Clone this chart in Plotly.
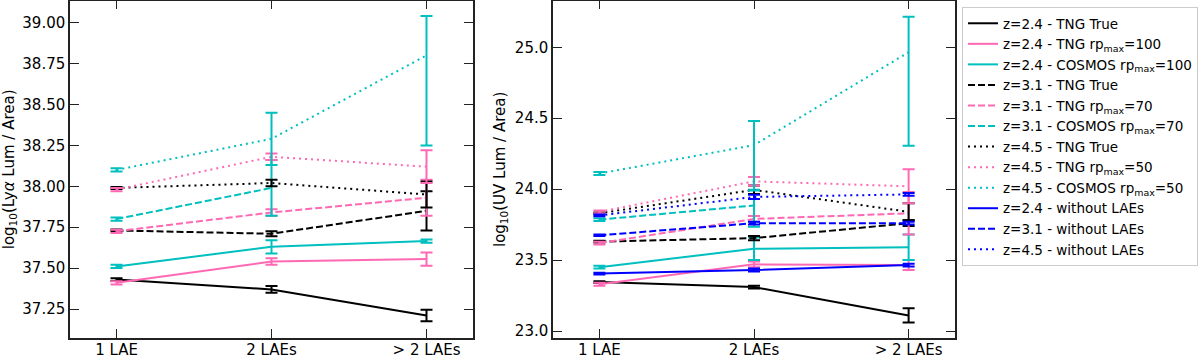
import plotly.graph_objects as go
from plotly.subplots import make_subplots

# 类别
CATEGORIES = ["1 LAE", "2 LAEs", "> 2 LAEs"]

# --- Lyα 面板 ---
lya_z24_tng_true = [37.43, 37.37, 37.21]
lya_z24_tng_true_err = [0.008, 0.02, 0.035]
lya_z24_tng_rp = [37.41, 37.54, 37.555]
lya_z24_tng_rp_err = [0.01, 0.02, 0.04]
lya_z24_cosmos = [37.51, 37.63, 37.665]
lya_z24_cosmos_err = [0.01, 0.04, 0.01]

lya_z31_tng_true = [37.73, 37.71, 37.85]
lya_z31_tng_true_err = [0.006, 0.015, 0.12]
lya_z31_tng_rp = [37.725, 37.84, 37.93]
lya_z31_tng_rp_err = [0.01, 0.02, 0.11]
lya_z31_cosmos = [37.80, 37.99, None]
lya_z31_cosmos_err = [0.01, 0.17, None]

lya_z45_tng_true = [37.99, 38.02, 37.95]
lya_z45_tng_true_err = [0.006, 0.02, 0.08]
lya_z45_tng_rp = [37.98, 38.18, 38.12]
lya_z45_tng_rp_err = [0.01, 0.02, 0.10]
lya_z45_cosmos = [38.10, 38.29, 38.80]
lya_z45_cosmos_err_plus = [0.01, 0.16, 0.24]
lya_z45_cosmos_err_minus = [0.01, 0.16, 0.55]

# --- UV 面板 ---
uv_z24_tng_true = [23.345, 23.31, 23.11]
uv_z24_tng_true_err = [0.006, 0.01, 0.05]
uv_z24_tng_rp = [23.33, 23.47, 23.465]
uv_z24_tng_rp_err = [0.01, 0.02, 0.035]
uv_z24_cosmos = [23.45, 23.58, 23.59]
uv_z24_cosmos_err = [0.01, 0.08, 0.09]

uv_z31_tng_true = [23.63, 23.655, 23.76]
uv_z31_tng_true_err = [0.006, 0.015, 0.02]
uv_z31_tng_rp = [23.62, 23.79, 23.83]
uv_z31_tng_rp_err = [0.01, 0.02, 0.15]
uv_z31_cosmos = [23.785, 23.885, None]
uv_z31_cosmos_err_plus = [0.01, 0.11, None]
uv_z31_cosmos_err_minus = [0.01, 0.15, None]

uv_z45_tng_true = [23.83, 23.995, 23.84]
uv_z45_tng_true_err = [0.006, 0.03, 0.06]
uv_z45_tng_rp = [23.84, 24.055, 24.02]
uv_z45_tng_rp_err = [0.01, 0.03, 0.12]
uv_z45_cosmos = [24.11, 24.31, 24.965]
uv_z45_cosmos_err_plus = [0.01, 0.17, 0.25]
uv_z45_cosmos_err_minus = [0.01, 0.32, 0.66]

uv_z24_no_lae = [23.405, 23.43, 23.465]
uv_z24_no_lae_err = [0.006, 0.01, 0.01]
uv_z31_no_lae = [23.675, 23.76, 23.76]
uv_z31_no_lae_err = [0.006, 0.01, 0.01]
uv_z45_no_lae = [23.815, 23.945, 23.963]
uv_z45_no_lae_err = [0.006, 0.015, 0.01]

BLACK = '#000000'
PINK = '#ff69b4'
CYAN = '#00bfbf'
BLUE = '#0000ff'

DASH = {'solid': 'solid', 'dashed': '7px,3px', 'dotted': '2px,4px'}


def add_series(fig, col, y, err_plus, err_minus, name, color, style, legend):
    fig.add_trace(
        go.Scatter(
            x=CATEGORIES,
            y=y,
            mode='lines',
            name=name,
            line=dict(color=color, width=2, dash=DASH[style]),
            error_y=dict(
                type='data',
                symmetric=False,
                array=err_plus,
                arrayminus=err_minus,
                color=color,
                thickness=2,
                width=6,
            ),
            showlegend=legend,
            connectgaps=False,
        ),
        row=1, col=col,
    )


fig = make_subplots(rows=1, cols=2)

# 左图：Lyα
lya_series = [
    (lya_z24_tng_true, lya_z24_tng_true_err, None, 'z=2.4 - TNG True', BLACK, 'solid'),
    (lya_z24_tng_rp, lya_z24_tng_rp_err, None, 'z=2.4 - TNG rp<sub>max</sub>=100', PINK, 'solid'),
    (lya_z24_cosmos, lya_z24_cosmos_err, None, 'z=2.4 - COSMOS rp<sub>max</sub>=100', CYAN, 'solid'),
    (lya_z31_tng_true, lya_z31_tng_true_err, None, 'z=3.1 - TNG True', BLACK, 'dashed'),
    (lya_z31_tng_rp, lya_z31_tng_rp_err, None, 'z=3.1 - TNG rp<sub>max</sub>=70', PINK, 'dashed'),
    (lya_z31_cosmos, lya_z31_cosmos_err, None, 'z=3.1 - COSMOS rp<sub>max</sub>=70', CYAN, 'dashed'),
    (lya_z45_tng_true, lya_z45_tng_true_err, None, 'z=4.5 - TNG True', BLACK, 'dotted'),
    (lya_z45_tng_rp, lya_z45_tng_rp_err, None, 'z=4.5 - TNG rp<sub>max</sub>=50', PINK, 'dotted'),
    (lya_z45_cosmos, lya_z45_cosmos_err_plus, lya_z45_cosmos_err_minus,
     'z=4.5 - COSMOS rp<sub>max</sub>=50', CYAN, 'dotted'),
]
for y, ep, em, name, color, style in lya_series:
    add_series(fig, 1, y, ep, em if em is not None else ep, name, color, style, False)

# 右图：UV（图例取自这里）
uv_series = [
    (uv_z24_tng_true, uv_z24_tng_true_err, None, 'z=2.4 - TNG True', BLACK, 'solid'),
    (uv_z24_tng_rp, uv_z24_tng_rp_err, None, 'z=2.4 - TNG rp<sub>max</sub>=100', PINK, 'solid'),
    (uv_z24_cosmos, uv_z24_cosmos_err, None, 'z=2.4 - COSMOS rp<sub>max</sub>=100', CYAN, 'solid'),
    (uv_z31_tng_true, uv_z31_tng_true_err, None, 'z=3.1 - TNG True', BLACK, 'dashed'),
    (uv_z31_tng_rp, uv_z31_tng_rp_err, None, 'z=3.1 - TNG rp<sub>max</sub>=70', PINK, 'dashed'),
    (uv_z31_cosmos, uv_z31_cosmos_err_plus, uv_z31_cosmos_err_minus,
     'z=3.1 - COSMOS rp<sub>max</sub>=70', CYAN, 'dashed'),
    (uv_z45_tng_true, uv_z45_tng_true_err, None, 'z=4.5 - TNG True', BLACK, 'dotted'),
    (uv_z45_tng_rp, uv_z45_tng_rp_err, None, 'z=4.5 - TNG rp<sub>max</sub>=50', PINK, 'dotted'),
    (uv_z45_cosmos, uv_z45_cosmos_err_plus, uv_z45_cosmos_err_minus,
     'z=4.5 - COSMOS rp<sub>max</sub>=50', CYAN, 'dotted'),
    (uv_z24_no_lae, uv_z24_no_lae_err, None, 'z=2.4 - without LAEs', BLUE, 'solid'),
    (uv_z31_no_lae, uv_z31_no_lae_err, None, 'z=3.1 - without LAEs', BLUE, 'dashed'),
    (uv_z45_no_lae, uv_z45_no_lae_err, None, 'z=4.5 - without LAEs', BLUE, 'dotted'),
]
for y, ep, em, name, color, style in uv_series:
    add_series(fig, 2, y, ep, em if em is not None else ep, name, color, style, True)

W, H = 1200, 355
axis_common = dict(
    showline=True, linecolor='#222222', linewidth=1.5, mirror='allticks',
    ticks='inside', ticklen=9, tickwidth=1.3, tickcolor='#222222',
    showgrid=False, zeroline=False, automargin=False,
    tickfont=dict(family='DejaVu Sans', size=15, color='#000000'),
)

fig.update_xaxes(**axis_common, range=[-0.3, 2.3], ticklabelstandoff=-3)
fig.update_yaxes(**axis_common)

fig.update_xaxes(domain=[70 / W, 473 / W], row=1, col=1)
fig.update_xaxes(domain=[553 / W, 955 / W], row=1, col=2)
fig.update_yaxes(
    domain=[17 / H, 0.998], range=[37.073, 39.134],
    tickvals=[37.25, 37.5, 37.75, 38.0, 38.25, 38.5, 38.75, 39.0], tickformat='.2f',
    title=dict(text='log<sub>10</sub>(Ly<i>α</i> Lum / Area)', standoff=6,
               font=dict(family='DejaVu Sans', size=15, color='#000000')),
    row=1, col=1,
)
fig.update_yaxes(
    domain=[17 / H, 0.998], range=[22.951, 25.328],
    tickvals=[23.0, 23.5, 24.0, 24.5, 25.0], tickformat='.1f',
    title=dict(text='log<sub>10</sub>(UV Lum / Area)', standoff=6,
               font=dict(family='DejaVu Sans', size=15, color='#000000')),
    row=1, col=2,
)

fig.update_layout(
    width=W, height=H,
    margin=dict(l=0, r=0, t=0, b=0),
    paper_bgcolor='white', plot_bgcolor='white',
    font=dict(family='DejaVu Sans', color='#000000'),
    legend=dict(
        x=962 / W, y=1 - 7 / H, xanchor='left', yanchor='top',
        bgcolor='white', bordercolor='#cccccc', borderwidth=1,
        font=dict(family='DejaVu Sans', size=13.5, color='#000000'),
        tracegroupgap=0, itemwidth=30,
    ),
)

# 去掉页面默认的 8px 边距，让图从左上角开始；隐藏工具栏
fig.write_html(
    "out.html",
    config={'displayModeBar': False},
    post_script="document.body.style.margin='0';",
)
